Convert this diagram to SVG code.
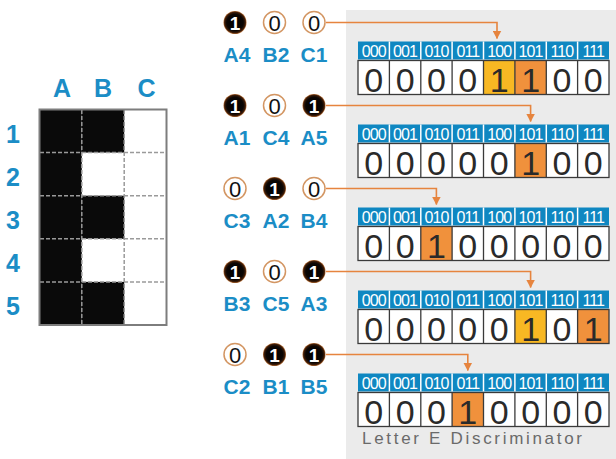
<svg xmlns="http://www.w3.org/2000/svg" xmlns:xlink="http://www.w3.org/1999/xlink" width="616" height="459" viewBox="0 0 616 459">
<style>
.lbl{font-family:'Liberation Sans',Arial,sans-serif;font-weight:bold;fill:#1b8dc6;text-anchor:middle}
.hd{font-family:'Liberation Sans',Arial,sans-serif;font-size:16px;letter-spacing:-0.9px;fill:#ffffff;text-anchor:middle}
.dg{font-family:'Liberation Sans',Arial,sans-serif;font-size:34px;fill:#2a2a2a;text-anchor:middle}
.one{font-family:'Liberation Sans',Arial,sans-serif;font-size:19px;font-weight:bold;fill:#fff;text-anchor:middle}
.zero{font-family:'Liberation Sans',Arial,sans-serif;font-size:22px;fill:#111;text-anchor:middle}
.c1{fill:url(#g1)}
.c0{fill:#fff;stroke:#d39663;stroke-width:1.5}
.dash{stroke:#9a9a9a;stroke-width:1.5;stroke-dasharray:4 2;fill:none}
.conn{fill:none;stroke:#e6843e;stroke-width:1.6}
.sep{stroke:#fff;stroke-width:1.5}
.cb{fill:none;stroke:#3a3a3a;stroke-width:1.3}
.yel{fill:#f8b823}
.org{fill:#f0913c}
</style>
<defs>
<radialGradient id="g1" cx="0.5" cy="0.5" r="0.5">
<stop offset="0" stop-color="#000"/>
<stop offset="0.72" stop-color="#0b0604"/>
<stop offset="0.9" stop-color="#3d1c08"/>
<stop offset="1" stop-color="#b56e36"/>
</radialGradient>
<marker id="ah" markerWidth="9" markerHeight="9" refX="8" refY="4.5" orient="auto" markerUnits="userSpaceOnUse">
<path d="M0,0 L8.5,4.5 L0,9 z" fill="#e6843e"/>
</marker>
<g id="hdr">
<rect x="358" y="0" width="251" height="18" fill="#0f87c1"/>
<g class="sep">
<line x1="389.4" y1="0" x2="389.4" y2="18"/><line x1="420.8" y1="0" x2="420.8" y2="18"/><line x1="452.1" y1="0" x2="452.1" y2="18"/><line x1="483.5" y1="0" x2="483.5" y2="18"/><line x1="514.9" y1="0" x2="514.9" y2="18"/><line x1="546.3" y1="0" x2="546.3" y2="18"/><line x1="577.6" y1="0" x2="577.6" y2="18"/>
</g>
<text class="hd" x="373.7" y="15.5">000</text><text class="hd" x="405.1" y="15.5">001</text><text class="hd" x="436.4" y="15.5">010</text><text class="hd" x="467.8" y="15.5">011</text><text class="hd" x="499.2" y="15.5">100</text><text class="hd" x="530.6" y="15.5">101</text><text class="hd" x="561.9" y="15.5">110</text><text class="hd" x="593.3" y="15.5">111</text>
</g>
<g id="cells">
<rect class="cb" x="358" y="0" width="251" height="34"/>
<g class="cb">
<line x1="389.4" y1="0" x2="389.4" y2="34"/><line x1="420.8" y1="0" x2="420.8" y2="34"/><line x1="452.1" y1="0" x2="452.1" y2="34"/><line x1="483.5" y1="0" x2="483.5" y2="34"/><line x1="514.9" y1="0" x2="514.9" y2="34"/><line x1="546.3" y1="0" x2="546.3" y2="34"/><line x1="577.6" y1="0" x2="577.6" y2="34"/>
</g>
</g>
</defs>

<rect id="panel" x="346" y="10" width="270" height="449" fill="#ebebeb"/>

<g id="grid">
<text class="lbl" x="62" y="97" font-size="25">A</text>
<text class="lbl" x="103" y="97" font-size="25">B</text>
<text class="lbl" x="146.5" y="97" font-size="25">C</text>
<text class="lbl" x="13" y="143" font-size="25">1</text>
<text class="lbl" x="13" y="186" font-size="25">2</text>
<text class="lbl" x="13" y="229" font-size="25">3</text>
<text class="lbl" x="13" y="272" font-size="25">4</text>
<text class="lbl" x="13" y="315" font-size="25">5</text>
<rect x="39.5" y="109.5" width="127" height="215.5" fill="#fff"/>
<rect x="39.5" y="109.5" width="42.3" height="215.5" fill="#0a0a0a"/>
<rect x="81.8" y="109.5" width="42.4" height="43.1" fill="#0a0a0a"/>
<rect x="81.8" y="195.7" width="42.4" height="43.1" fill="#0a0a0a"/>
<rect x="81.8" y="281.9" width="42.4" height="43.1" fill="#0a0a0a"/>
<g class="dash">
<line x1="81.8" y1="110" x2="81.8" y2="324.5"/>
<line x1="124.2" y1="110" x2="124.2" y2="324.5"/>
<line x1="40" y1="152.6" x2="166" y2="152.6"/>
<line x1="40" y1="195.7" x2="166" y2="195.7"/>
<line x1="40" y1="238.8" x2="166" y2="238.8"/>
<line x1="40" y1="281.9" x2="166" y2="281.9"/>
</g>
<rect x="39.5" y="109.5" width="127" height="215.5" fill="none" stroke="#7d7d7d" stroke-width="2"/>
</g>

<g id="row1">
<circle class="c1" cx="235" cy="22.5" r="11.5"/><text class="one" x="235" y="29.5">1</text>
<circle class="c0" cx="274.5" cy="22.5" r="11"/><text class="zero" x="274.5" y="30.5">0</text>
<circle class="c0" cx="314" cy="22.5" r="11"/><text class="zero" x="314" y="30.5">0</text>
<text class="lbl" x="237" y="61.5" font-size="21">A4</text>
<text class="lbl" x="276" y="61.5" font-size="21">B2</text>
<text class="lbl" x="314" y="61.5" font-size="21">C1</text>
<use xlink:href="#hdr" href="#hdr" transform="translate(0,41.5)"/>
<rect x="358" y="60.5" width="251" height="34" fill="#fff"/>
<rect class="yel" x="483.5" y="60.5" width="31.4" height="34"/>
<rect class="org" x="514.9" y="60.5" width="31.4" height="34"/>
<use xlink:href="#cells" href="#cells" transform="translate(0,60.5)"/>
<text class="dg" x="373.7" y="91.5">0</text><text class="dg" x="405.1" y="91.5">0</text><text class="dg" x="436.4" y="91.5">0</text><text class="dg" x="467.8" y="91.5">0</text><text class="dg" x="499.2" y="91.5">1</text><text class="dg" x="530.6" y="91.5">1</text><text class="dg" x="561.9" y="91.5">0</text><text class="dg" x="593.3" y="91.5">0</text>
</g>

<g id="row2">
<circle class="c1" cx="235" cy="105.5" r="11.5"/><text class="one" x="235" y="112.5">1</text>
<circle class="c0" cx="274.5" cy="105.5" r="11"/><text class="zero" x="274.5" y="113.5">0</text>
<circle class="c1" cx="314" cy="105.5" r="11.5"/><text class="one" x="314" y="112.5">1</text>
<text class="lbl" x="237" y="144.5" font-size="21">A1</text>
<text class="lbl" x="276" y="144.5" font-size="21">C4</text>
<text class="lbl" x="314" y="144.5" font-size="21">A5</text>
<use xlink:href="#hdr" href="#hdr" transform="translate(0,124.5)"/>
<rect x="358" y="143.5" width="251" height="34" fill="#fff"/>
<rect class="org" x="514.9" y="143.5" width="31.4" height="34"/>
<use xlink:href="#cells" href="#cells" transform="translate(0,143.5)"/>
<text class="dg" x="373.7" y="174.5">0</text><text class="dg" x="405.1" y="174.5">0</text><text class="dg" x="436.4" y="174.5">0</text><text class="dg" x="467.8" y="174.5">0</text><text class="dg" x="499.2" y="174.5">0</text><text class="dg" x="530.6" y="174.5">1</text><text class="dg" x="561.9" y="174.5">0</text><text class="dg" x="593.3" y="174.5">0</text>
</g>

<g id="row3">
<circle class="c0" cx="235" cy="188.5" r="11"/><text class="zero" x="235" y="196.5">0</text>
<circle class="c1" cx="274.5" cy="188.5" r="11.5"/><text class="one" x="274.5" y="195.5">1</text>
<circle class="c0" cx="314" cy="188.5" r="11"/><text class="zero" x="314" y="196.5">0</text>
<text class="lbl" x="237" y="227.5" font-size="21">C3</text>
<text class="lbl" x="276" y="227.5" font-size="21">A2</text>
<text class="lbl" x="314" y="227.5" font-size="21">B4</text>
<use xlink:href="#hdr" href="#hdr" transform="translate(0,207.5)"/>
<rect x="358" y="226.5" width="251" height="34" fill="#fff"/>
<rect class="org" x="420.8" y="226.5" width="31.3" height="34"/>
<use xlink:href="#cells" href="#cells" transform="translate(0,226.5)"/>
<text class="dg" x="373.7" y="257.5">0</text><text class="dg" x="405.1" y="257.5">0</text><text class="dg" x="436.4" y="257.5">1</text><text class="dg" x="467.8" y="257.5">0</text><text class="dg" x="499.2" y="257.5">0</text><text class="dg" x="530.6" y="257.5">0</text><text class="dg" x="561.9" y="257.5">0</text><text class="dg" x="593.3" y="257.5">0</text>
</g>

<g id="row4">
<circle class="c1" cx="235" cy="271.5" r="11.5"/><text class="one" x="235" y="278.5">1</text>
<circle class="c0" cx="274.5" cy="271.5" r="11"/><text class="zero" x="274.5" y="279.5">0</text>
<circle class="c1" cx="314" cy="271.5" r="11.5"/><text class="one" x="314" y="278.5">1</text>
<text class="lbl" x="237" y="310.5" font-size="21">B3</text>
<text class="lbl" x="276" y="310.5" font-size="21">C5</text>
<text class="lbl" x="314" y="310.5" font-size="21">A3</text>
<use xlink:href="#hdr" href="#hdr" transform="translate(0,290.5)"/>
<rect x="358" y="309.5" width="251" height="34" fill="#fff"/>
<rect class="yel" x="514.9" y="309.5" width="31.4" height="34"/>
<rect class="org" x="577.6" y="309.5" width="31.4" height="34"/>
<use xlink:href="#cells" href="#cells" transform="translate(0,309.5)"/>
<text class="dg" x="373.7" y="340.5">0</text><text class="dg" x="405.1" y="340.5">0</text><text class="dg" x="436.4" y="340.5">0</text><text class="dg" x="467.8" y="340.5">0</text><text class="dg" x="499.2" y="340.5">0</text><text class="dg" x="530.6" y="340.5">1</text><text class="dg" x="561.9" y="340.5">0</text><text class="dg" x="593.3" y="340.5">1</text>
</g>

<g id="row5">
<circle class="c0" cx="235" cy="354.5" r="11"/><text class="zero" x="235" y="362.5">0</text>
<circle class="c1" cx="274.5" cy="354.5" r="11.5"/><text class="one" x="274.5" y="361.5">1</text>
<circle class="c1" cx="314" cy="354.5" r="11.5"/><text class="one" x="314" y="361.5">1</text>
<text class="lbl" x="237" y="393.5" font-size="21">C2</text>
<text class="lbl" x="276" y="393.5" font-size="21">B1</text>
<text class="lbl" x="314" y="393.5" font-size="21">B5</text>
<use xlink:href="#hdr" href="#hdr" transform="translate(0,373.5)"/>
<rect x="358" y="392.5" width="251" height="34" fill="#fff"/>
<rect class="org" x="452.1" y="392.5" width="31.4" height="34"/>
<use xlink:href="#cells" href="#cells" transform="translate(0,392.5)"/>
<text class="dg" x="373.7" y="423.5">0</text><text class="dg" x="405.1" y="423.5">0</text><text class="dg" x="436.4" y="423.5">0</text><text class="dg" x="467.8" y="423.5">1</text><text class="dg" x="499.2" y="423.5">0</text><text class="dg" x="530.6" y="423.5">0</text><text class="dg" x="561.9" y="423.5">0</text><text class="dg" x="593.3" y="423.5">0</text>
</g>

<g id="connectors">
<path class="conn" d="M326,22.5 H497 V38.5" marker-end="url(#ah)"/>
<path class="conn" d="M326,105.5 H530.6 V121.5" marker-end="url(#ah)"/>
<path class="conn" d="M326,188.5 H436.4 V204.5" marker-end="url(#ah)"/>
<path class="conn" d="M326,271.5 H530.6 V287.5" marker-end="url(#ah)"/>
<path class="conn" d="M326,354.5 H467.8 V370.5" marker-end="url(#ah)"/>
</g>

<text id="title" x="362" y="444" font-family="'Liberation Sans', Arial, sans-serif" font-size="17" fill="#6a6a6a" textLength="220" lengthAdjust="spacing">Letter E Discriminator</text>
</svg>
